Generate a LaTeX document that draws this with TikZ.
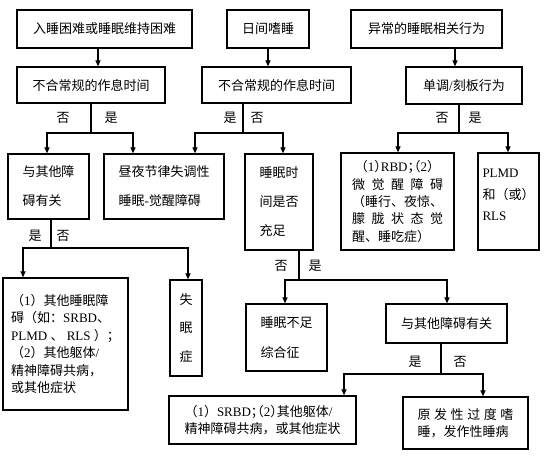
\documentclass[tikz,border=0pt]{standalone}
\usepackage{fontspec}
\setmainfont{Liberation Serif}
\newfontfamily\cjk{Noto Sans CJK SC}
\newfontfamily\cjkh[RawFeature=+halt]{Noto Sans CJK SC}
\newfontfamily\lat{Liberation Serif}
\newcommand\la[1]{{\lat #1}}
\usetikzlibrary{arrows.meta}
\begin{document}
\begin{tikzpicture}[x=1pt,y=-1pt,
  box/.style={draw, line width=1.2pt, inner sep=0pt, align=left, font=\cjk\fontsize{13}{29}\selectfont},
  txt/.style={inner sep=0pt, align=left},
  arr/.style={line width=1.1pt, -{Triangle[length=6pt,width=5pt]}},
  ln/.style={line width=1.1pt},
  lab/.style={font=\cjk\fontsize{13}{15}\selectfont, inner sep=0pt}]
\fill[white] (0,0) rectangle (554,470);
\useasboundingbox (0,0) rectangle (554,470);
% row 1
\node[box, minimum width=175pt, minimum height=38pt] (n1) at (104.5,29) {入睡困难或睡眠维持困难};
\node[box, minimum width=82pt, minimum height=38pt] (n2) at (268,29) {日间嗜睡};
\node[box, minimum width=151pt, minimum height=38pt] (n3) at (426.5,29) {异常的睡眠相关行为};
% row 2
\node[box, minimum width=148pt, minimum height=36pt] (n4) at (91,85) {不合常规的作息时间};
\node[box, minimum width=149pt, minimum height=36pt] (n5) at (276.5,85) {不合常规的作息时间};
\node[box, minimum width=116pt, minimum height=37pt] (n6) at (464,85.5) {单调\la{/}刻板行为};
% row 3
\node[box, minimum width=81pt, minimum height=65pt] (n7) at (48.5,186.5) {与其他障\\碍有关};
\node[box, minimum width=120pt, minimum height=65pt] (n8) at (164,186.5) {昼夜节律失调性\\睡眠\la{-}觉醒障碍};
\node[box, minimum width=68pt, minimum height=96pt] (n9) at (279,202) {睡眠时\\间是否\\充足};
\node[box, minimum width=113pt, minimum height=97pt, font=\cjk\fontsize{13}{17.3}\selectfont] (n10) at (397.5,201.5)
  {\makebox[91pt][c]{{\cjkh （}\la{1}{\cjkh ）}\la{RBD}{\cjkh ；（}\la{2}{\cjkh ）}}\\
   \makebox[91pt]{微\hfill 觉\hfill 醒\hfill 障\hfill 碍}\\
   （睡行、夜惊、\\
   \makebox[91pt]{朦\hfill 胧\hfill 状\hfill 态\hfill 觉}\\
   醒、睡吃症）};
\node[box, minimum width=61pt, minimum height=97pt] (n11) at (508.5,201.5) {};
\node[txt, font=\cjk\fontsize{13}{21.5}\selectfont] (t11) at (508.5,195) {\la{PLMD}\\和（或）\\\la{RLS}};
% row 4
\node[box, minimum width=125pt, minimum height=132pt, font=\cjk\fontsize{13}{17.4}\selectfont] (n12) at (65.5,344)
  {（\la{1}）其他睡眠障\\
   碍（如：\la{SRBD}、\\
   \la{PLMD }、\la{ RLS }）；\\
   （\la{2}）其他躯体\la{/}\\
   精神障碍共病，\\
   或其他症状};
\node[box, minimum width=32pt, minimum height=96pt, align=center, font=\cjk\fontsize{13}{28.5}\selectfont] (n13) at (186,328) {失\\眠\\症};
\node[box, minimum width=81pt, minimum height=67pt, font=\cjk\fontsize{13}{30}\selectfont] (n14) at (286.5,337.5) {睡眠不足\\综合征};
\node[box, minimum width=121pt, minimum height=39pt] (n15) at (446.5,323.5) {与其他障碍有关};
% row 5
\node[box, minimum width=187pt, minimum height=48pt, font=\cjk\fontsize{13}{17}\selectfont] (n16) at (262.5,420)
  {（\la{1}）\la{SRBD}{\cjkh ；（}\la{2}{\cjkh ）}其他躯体\la{/}\\精神障碍共病，或其他症状};
\node[box, minimum width=125pt, minimum height=52pt, font=\cjk\fontsize{13}{17}\selectfont] (n17) at (465.5,423)
  {\makebox[96pt]{原\hfill 发\hfill 性\hfill 过\hfill 度\hfill 嗜}\\睡，发作性睡病};
% junctions
\coordinate (j4) at (91,133);
\coordinate (j5) at (243,133);
\coordinate (j6) at (459,133);
\coordinate (j7) at (51,248);
\coordinate (j9) at (299,280);
\coordinate (j15) at (441,374);
% connectors
\draw[arr] (n1.south -| 98,0) -- (n4.north -| 98,0);
\draw[arr] (n2.south -| 268,0) -- (n5.north -| 268,0);
\draw[arr] (n3.south -| 455,0) -- (n6.north -| 455,0);
\draw[ln] (n4.south -| j4) -- (j4);
\draw[arr] (j4) -| (n7.north -| 47,0);
\draw[arr] (j4) -| (n8.north -| 133,0);
\draw[ln] (n5.south -| j5) -- (j5);
\draw[arr] (j5) -| (n8.north -| 195,0);
\draw[arr] (j5) -| (n9.north -| 283,0);
\draw[ln] (n6.south -| j6) -- (j6);
\draw[arr] (j6) -| (n10.north -| 398,0);
\draw[arr] (j6) -| (n11.north -| 508,0);
\draw[ln] (n7.south -| j7) -- (j7);
\draw[arr] (j7) -| (n12.north -| 23,0);
\draw[arr] (j7) -| (n13.north -| 188,0);
\draw[ln] (n9.south -| j9) -- (j9);
\draw[arr] (j9) -| (n14.north -| 285,0);
\draw[arr] (j9) -| (n15.north -| 447,0);
\draw[ln] (n15.south -| j15) -- (j15);
\draw[arr] (j15) -| (n16.north -| 344,0);
\draw[arr] (j15) -| (n17.north -| 483,0);
% labels
\node[lab] (l1) at (63,118) {否};
\node[lab] (l2) at (111,118) {是};
\node[lab] (l3) at (230,118) {是};
\node[lab] (l4) at (257,118) {否};
\node[lab] (l5) at (442,118) {否};
\node[lab] (l6) at (475,118) {是};
\node[lab] (l7) at (35,236) {是};
\node[lab] (l8) at (63,236) {否};
\node[lab] (l9) at (281,266) {否};
\node[lab] (l10) at (315,266) {是};
\node[lab] (l11) at (415,362) {是};
\node[lab] (l12) at (460,362) {否};
\end{tikzpicture}
\end{document}
